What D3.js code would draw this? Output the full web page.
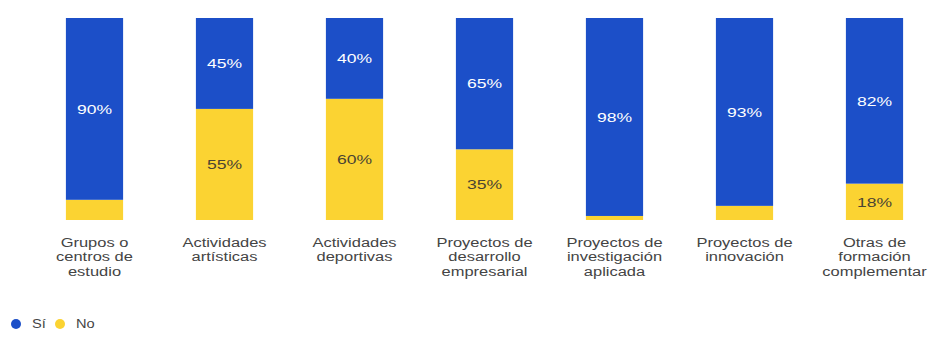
<!DOCTYPE html>
<html>
<head>
<meta charset="utf-8">
<script src="https://cdn.jsdelivr.net/npm/d3@7"></script>
<style>
  html, body { margin: 0; padding: 0; background: #fff; }
  svg { display: block; font-family: "Liberation Sans", Arial, sans-serif; }
</style>
</head>
<body>
<svg id="chart" width="935" height="341"></svg>
<script>
// Participation by type of activity (percentage of respondents)
const categories = [
  ["Grupos o", "centros de", "estudio"],
  ["Actividades", "artísticas"],
  ["Actividades", "deportivas"],
  ["Proyectos de", "desarrollo", "empresarial"],
  ["Proyectos de", "investigación", "aplicada"],
  ["Proyectos de", "innovación"],
  ["Otras de", "formación", "complementar"]
];
const siValues = [90, 45, 40, 65, 98, 93, 82];
const noValues = [10, 55, 60, 35, 2, 7, 18];
const seriesNames = ["Sí", "No"];

const colors = { "Sí": "#1c4fc8", "No": "#fbd332" };
const labelColors = { "Sí": "#ffffff", "No": "#4a4433" };

// Text in this chart is drawn slightly wide
const stretch = 1.22;

const svg = d3.select("#chart");

const rows = categories.map((c, i) => ({ key: i, "Sí": siValues[i], "No": noValues[i] }));

const x = d3.scaleBand()
  .domain(rows.map(d => d.key))
  .range([29.5, 939.5])
  .paddingInner(0.56)
  .paddingOuter(0.28);

const y = d3.scaleLinear().domain([0, 100]).range([220, 18]);

// "No" sits at the bottom, "Sí" stacked above it
const stack = d3.stack().keys(["No", "Sí"]);
const layers = stack(rows);

const g = svg.append("g");

layers.forEach(layer => {
  const name = layer.key;
  g.selectAll(null)
    .data(layer)
    .enter().append("rect")
    .attr("x", (d, i) => x(i))
    .attr("width", x.bandwidth())
    .attr("y", d => y(d[1]))
    .attr("height", d => y(d[0]) - y(d[1]))
    .attr("fill", colors[name]);

  g.selectAll(null)
    .data(layer.filter(d => d.data[name] > 10))
    .enter().append("text")
    .attr("transform", d =>
      `translate(${x(d.data.key) + x.bandwidth() / 2},${(y(d[0]) + y(d[1])) / 2}) scale(1.3,1)`)
    .attr("dy", "0.35em")
    .attr("text-anchor", "middle")
    .attr("font-size", 13.5)
    .attr("fill", labelColors[name])
    .text(d => d.data[name] + "%");
});

// Category labels, wrapped over several lines
const xAxis = svg.append("g");
categories.forEach((lines, i) => {
  const t = xAxis.append("text")
    .attr("transform", `translate(${x(i) + x.bandwidth() / 2},247) scale(${stretch},1)`)
    .attr("text-anchor", "middle")
    .attr("font-size", 13.5)
    .attr("fill", "#444");
  lines.forEach((line, j) => {
    t.append("tspan")
      .attr("x", 0)
      .attr("y", j * 14.5)
      .text(line);
  });
});

// Legend
const legend = svg.append("g").attr("transform", "translate(16,324)");
const legendX = [0, 44];
seriesNames.forEach((name, i) => {
  const item = legend.append("g").attr("transform", `translate(${legendX[i]},0)`);
  item.append("circle").attr("r", 5).attr("fill", colors[name]);
  item.append("text")
    .attr("transform", `translate(16,0) scale(${stretch},1)`)
    .attr("dy", "0.35em")
    .attr("font-size", 12)
    .attr("fill", "#444")
    .text(name);
});
</script>
</body>
</html>
